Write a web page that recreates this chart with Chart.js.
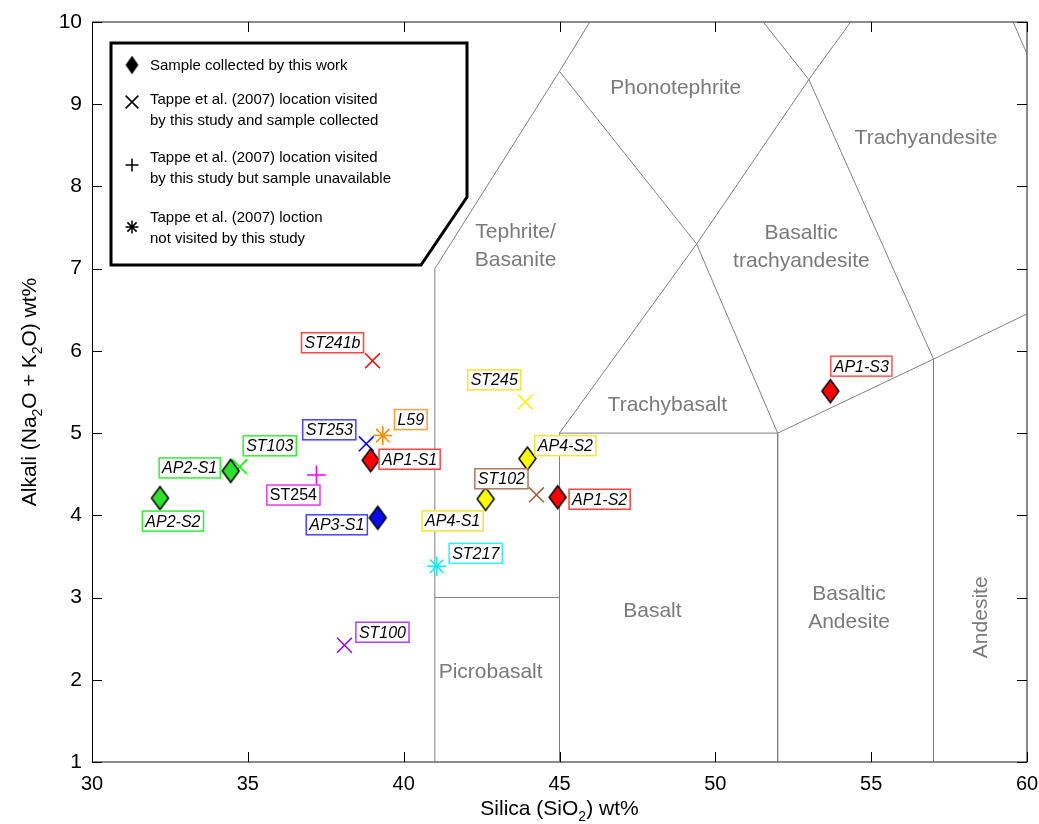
<!DOCTYPE html>
<html>
<head>
<meta charset="utf-8">
<script src="https://cdn.jsdelivr.net/npm/chart.js@4.4.0/dist/chart.umd.min.js"></script>
<style>
  html, body { margin: 0; padding: 0; background: #fff; }
</style>
</head>
<body>
<canvas id="tasChart" width="1039" height="824"></canvas>
<script>
// samples collected by this work
const sampleNames = ['AP2-S2', 'AP2-S1', 'AP1-S1', 'AP3-S1', 'AP4-S1', 'AP4-S2', 'AP1-S2', 'AP1-S3'];
const sampleSilica = [32.18, 34.45, 38.94, 39.17, 42.63, 43.97, 44.94, 53.69];
const sampleAlkali = [4.21, 4.54, 4.67, 3.97, 4.20, 4.69, 4.22, 5.51];

// Tappe et al. (2007) - visited, sample collected
const collectedNames = ['ST241b', 'ST253', 'ST103', 'ST245', 'ST102', 'ST100'];
const collectedSilica = [39.00, 38.80, 34.74, 43.90, 44.26, 38.10];
const collectedAlkali = [5.88, 4.87, 4.59, 5.38, 4.25, 2.42];

// Tappe et al. (2007) - visited, sample unavailable
const unavailableNames = ['ST254'];
const unavailableSilica = [37.20];
const unavailableAlkali = [4.49];

// Tappe et al. (2007) - not visited
const notVisitedNames = ['L59', 'ST217'];
const notVisitedSilica = [39.33, 41.06];
const notVisitedAlkali = [4.97, 3.38];

// TAS field boundaries (Le Bas et al. 1986), [SiO2, Na2O+K2O]
const boundaryLines = [
    [[41, 0], [41, 7], [45, 9.4], [48.4, 11.5], [52.5, 14]],
    [[41, 3], [45, 3]],
    [[45, 0], [45, 5], [49.4, 7.3], [53, 9.3], [57.6, 11.7]],
    [[45, 9.4], [49.4, 7.3], [52, 5], [57, 5.9], [63, 7]],
    [[45, 5], [52, 5], [52, 0]],
    [[48.4, 11.5], [53, 9.3], [57, 5.9], [57, 0]],
    [[57.6, 11.7], [63, 7]]
];
const fieldNames = ['Phonotephrite', 'Trachyandesite', 'Tephrite/\nBasanite', 'Basaltic\ntrachyandesite',
    'Trachybasalt', 'Basalt', 'Basaltic\nAndesite', 'Picrobasalt', 'Andesite'];

const xTicks = [30, 35, 40, 45, 50, 55, 60];
const yTicks = [1, 2, 3, 4, 5, 6, 7, 8, 9, 10];

// ---- styling (kept apart from the data) ----
const FONT = '"Liberation Sans", Arial, Helvetica, sans-serif';
const sampleFill = ['#2ee02e', '#2ee02e', '#ff0000', '#0a0aee', '#ffff00', '#ffff00', '#ff0000', '#ff0000'];
const sampleBox = ['#33ee33', '#33ee33', '#ff4444', '#4444ff', '#f5e63a', '#f5e63a', '#ff4444', '#ff5555'];
const sampleOffset = [[13, 23], [-41, -3], [39, -1], [-41, 7], [-33, 22], [38, -13], [42, 2], [31, -25]];

const collectedColor = ['#ff0000', '#0000ff', '#00ff00', '#f2f200', '#a0603a', '#9900ff'];
const collectedBox = ['#ff4444', '#4444ff', '#33ee33', '#f5e63a', '#a87a5a', '#aa44ff'];
const collectedOffset = [[-40, -18], [-37, -14], [30, -21], [-31, -22], [-35, -16], [38, -13]];

const unavailableColor = ['#ff00ff'];
const unavailableBox = ['#ee33ee'];
const unavailableOffset = [[-23, 20]];

const notVisitedColor = ['#ff8c00', '#00f0ff'];
const notVisitedBox = ['#ffa040', '#33eeff'];
const notVisitedOffset = [[28, -16], [39, -13]];

// label anchors for the field names, in axis units
const fieldAnchor = [[48.73, 9.19], [56.76, 8.59], [43.59, 7.27], [52.76, 7.26],
    [48.46, 5.34], [47.98, 2.84], [54.29, 2.87], [42.79, 2.09], [58.53, 2.76]];

function toPoints(xs, ys) {
    return xs.map((v, i) => ({x: v, y: ys[i]}));
}

function makeDiamond(fill, hw, hh) {
    let c = document.createElement('canvas');
    c.width = Math.ceil(hw * 2 + 4);
    c.height = Math.ceil(hh * 2 + 4);
    let g = c.getContext('2d');
    let cx = c.width / 2, cy = c.height / 2;
    g.beginPath();
    g.moveTo(cx, cy - hh);
    g.lineTo(cx + hw, cy);
    g.lineTo(cx, cy + hh);
    g.lineTo(cx - hw, cy);
    g.closePath();
    g.fillStyle = fill;
    g.fill();
    g.lineWidth = 1.5;
    g.strokeStyle = '#000';
    g.stroke();
    return c;
}

// text with subscripts: parts = [[text, isSub], ...], centred on x
function drawRich(ctx, parts, x, y, size) {
    let w = 0;
    parts.forEach(p => {
        ctx.font = (p[1] ? Math.round(size * 0.68) : size) + 'px ' + FONT;
        w += ctx.measureText(p[0]).width;
    });
    let cx = x - w / 2;
    ctx.textAlign = 'left';
    ctx.textBaseline = 'alphabetic';
    parts.forEach(p => {
        ctx.font = (p[1] ? Math.round(size * 0.68) : size) + 'px ' + FONT;
        ctx.fillText(p[0], cx, y + (p[1] ? size * 0.28 : 0));
        cx += ctx.measureText(p[0]).width;
    });
}

function drawTag(ctx, text, px, py, off, color, italic) {
    ctx.font = (italic ? 'italic ' : '') + '16px ' + FONT;
    let w = ctx.measureText(text).width + 6;
    let h = 20;
    let cx = px + off[0], cy = py + off[1];
    ctx.fillStyle = '#fff';
    ctx.fillRect(cx - w / 2, cy - h / 2, w, h);
    ctx.lineWidth = 1.5;
    ctx.strokeStyle = color;
    ctx.strokeRect(cx - w / 2, cy - h / 2, w, h);
    ctx.fillStyle = '#000';
    ctx.textAlign = 'center';
    ctx.textBaseline = 'middle';
    ctx.fillText(text, cx, cy + 1);
}

const tasDecor = {
    id: 'tasDecor',
    beforeDatasetsDraw(chart) {
        const {ctx, scales: {x, y}} = chart;
        ctx.save();
        ctx.fillStyle = '#7a7a7a';
        ctx.font = '21px ' + FONT;
        ctx.textAlign = 'center';
        ctx.textBaseline = 'middle';
        fieldNames.forEach((name, i) => {
            let px = x.getPixelForValue(fieldAnchor[i][0]);
            let py = y.getPixelForValue(fieldAnchor[i][1]);
            let lines = name.split('\n');
            ctx.save();
            ctx.translate(px, py);
            if (name === 'Andesite') ctx.rotate(-Math.PI / 2);
            lines.forEach((ln, k) => ctx.fillText(ln, 0, (k - (lines.length - 1) / 2) * 28));
            ctx.restore();
        });
        ctx.restore();
    },
    afterDatasetsDraw(chart) {
        const {ctx, chartArea: a, scales: {x, y}} = chart;
        ctx.save();

        // point tags
        sampleNames.forEach((n, i) => drawTag(ctx, n, x.getPixelForValue(sampleSilica[i]), y.getPixelForValue(sampleAlkali[i]), sampleOffset[i], sampleBox[i], true));
        collectedNames.forEach((n, i) => drawTag(ctx, n, x.getPixelForValue(collectedSilica[i]), y.getPixelForValue(collectedAlkali[i]), collectedOffset[i], collectedBox[i], true));
        unavailableNames.forEach((n, i) => drawTag(ctx, n, x.getPixelForValue(unavailableSilica[i]), y.getPixelForValue(unavailableAlkali[i]), unavailableOffset[i], unavailableBox[i], false));
        notVisitedNames.forEach((n, i) => drawTag(ctx, n, x.getPixelForValue(notVisitedSilica[i]), y.getPixelForValue(notVisitedAlkali[i]), notVisitedOffset[i], notVisitedBox[i], true));

        // frame + inward ticks
        ctx.lineWidth = 1.5;
        ctx.strokeStyle = '#666';
        ctx.beginPath();
        ctx.moveTo(a.left, a.top); ctx.lineTo(a.right, a.top);
        ctx.lineTo(a.right, a.bottom); ctx.lineTo(a.left, a.bottom);
        ctx.stroke();
        ctx.lineWidth = 1;
        ctx.strokeStyle = '#000';
        ctx.beginPath();
        ctx.moveTo(a.left + 0.5, a.top); ctx.lineTo(a.left + 0.5, a.bottom);
        xTicks.forEach(v => {
            let px = Math.round(x.getPixelForValue(v)) + 0.5;
            ctx.moveTo(px, a.bottom); ctx.lineTo(px, a.bottom - 10);
            ctx.moveTo(px, a.top); ctx.lineTo(px, a.top + 10);
        });
        yTicks.forEach(v => {
            let py = Math.round(y.getPixelForValue(v)) + 0.5;
            ctx.moveTo(a.left, py); ctx.lineTo(a.left + 10, py);
            ctx.moveTo(a.right, py); ctx.lineTo(a.right - 10, py);
        });
        ctx.stroke();

        // legend box
        ctx.fillStyle = '#fff';
        ctx.strokeStyle = '#000';
        ctx.lineWidth = 3;
        ctx.beginPath();
        ctx.moveTo(111, 43); ctx.lineTo(467, 43); ctx.lineTo(467, 197);
        ctx.lineTo(421, 265); ctx.lineTo(111, 265); ctx.closePath();
        ctx.fill();
        ctx.stroke();

        ctx.drawImage(legendDiamond, 132 - legendDiamond.width / 2, 65 - legendDiamond.height / 2);
        ctx.lineWidth = 1.5;
        const mk = [['crossRot', 9, 102], ['cross', 6.5, 165], ['star', 6.5, 227]];
        mk.forEach(m => Chart.helpers.drawPoint(ctx, {pointStyle: m[0], radius: m[1], rotation: 0, borderWidth: 1.5}, 132, m[2]));

        ctx.fillStyle = '#000';
        ctx.font = '15px ' + FONT;
        ctx.textAlign = 'left';
        ctx.textBaseline = 'middle';
        const legendLines = [
            ['Sample collected by this work', 66],
            ['Tappe et al. (2007) location visited', 100],
            ['by this study and sample collected', 121],
            ['Tappe et al. (2007) location visited', 158],
            ['by this study but sample unavailable', 179],
            ['Tappe et al. (2007) loction', 218],
            ['not visited by this study', 239]
        ];
        legendLines.forEach(l => ctx.fillText(l[0], 150, l[1]));

        // axis titles
        ctx.fillStyle = '#000';
        drawRich(ctx, [['Silica (SiO', false], ['2', true], [') wt%', false]], (a.left + a.right) / 2, 815, 21);
        ctx.save();
        ctx.translate(36, (a.top + a.bottom) / 2);
        ctx.rotate(-Math.PI / 2);
        drawRich(ctx, [['Alkali (Na', false], ['2', true], ['O + K', false], ['2', true], ['O) wt%', false]], 0, 0, 21);
        ctx.restore();

        ctx.restore();
    }
};

const legendDiamond = makeDiamond('#000', 5.5, 8);

const boundarySets = boundaryLines.map(line => ({
    data: line.map(p => ({x: p[0], y: p[1]})),
    showLine: true,
    borderColor: '#808080',
    borderWidth: 1,
    pointRadius: 0,
    fill: false
}));

let ctx = document.getElementById('tasChart');
new Chart(ctx, {
    type: 'scatter',
    data: {
        datasets: [
            {
                label: 'Sample collected by this work',
                data: toPoints(sampleSilica, sampleAlkali),
                pointStyle: sampleFill.map(c => makeDiamond(c, 8.5, 11.5))
            },
            {
                label: 'Tappe et al. (2007) location visited by this study and sample collected',
                data: toPoints(collectedSilica, collectedAlkali),
                pointStyle: 'crossRot',
                pointRadius: 10.5,
                pointBorderWidth: 1.5,
                pointBorderColor: collectedColor
            },
            {
                label: 'Tappe et al. (2007) location visited by this study but sample unavailable',
                data: toPoints(unavailableSilica, unavailableAlkali),
                pointStyle: 'cross',
                pointRadius: 9.5,
                pointBorderWidth: 1.5,
                pointBorderColor: unavailableColor
            },
            {
                label: 'Tappe et al. (2007) loction not visited by this study',
                data: toPoints(notVisitedSilica, notVisitedAlkali),
                pointStyle: 'star',
                pointRadius: 9.5,
                pointBorderWidth: 1.5,
                pointBorderColor: notVisitedColor
            }
        ].concat(boundarySets)
    },
    options: {
        responsive: false,
        animation: false,
        events: [],
        layout: {padding: {top: 22, right: 11, left: 0, bottom: 0}},
        plugins: {
            legend: {display: false},
            tooltip: {enabled: false}
        },
        scales: {
            x: {
                type: 'linear',
                min: 30,
                max: 60,
                afterBuildTicks: s => { s.ticks = xTicks.map(v => ({value: v})); },
                afterFit: s => { s.height = 62; s.paddingLeft = 0; s.paddingRight = 0; },
                grid: {display: false, drawTicks: false},
                border: {display: false},
                ticks: {padding: 10, color: '#000', autoSkip: false, maxRotation: 0, font: {size: 20, family: FONT}}
            },
            y: {
                type: 'linear',
                min: 1,
                max: 10,
                afterBuildTicks: s => { s.ticks = yTicks.map(v => ({value: v})); },
                afterFit: s => { s.width = 92; s.paddingTop = 0; s.paddingBottom = 0; },
                grid: {display: false, drawTicks: false},
                border: {display: false},
                ticks: {padding: 10, color: '#000', autoSkip: false, font: {size: 21, family: FONT}}
            }
        }
    },
    plugins: [tasDecor]
});
</script>
</body>
</html>
